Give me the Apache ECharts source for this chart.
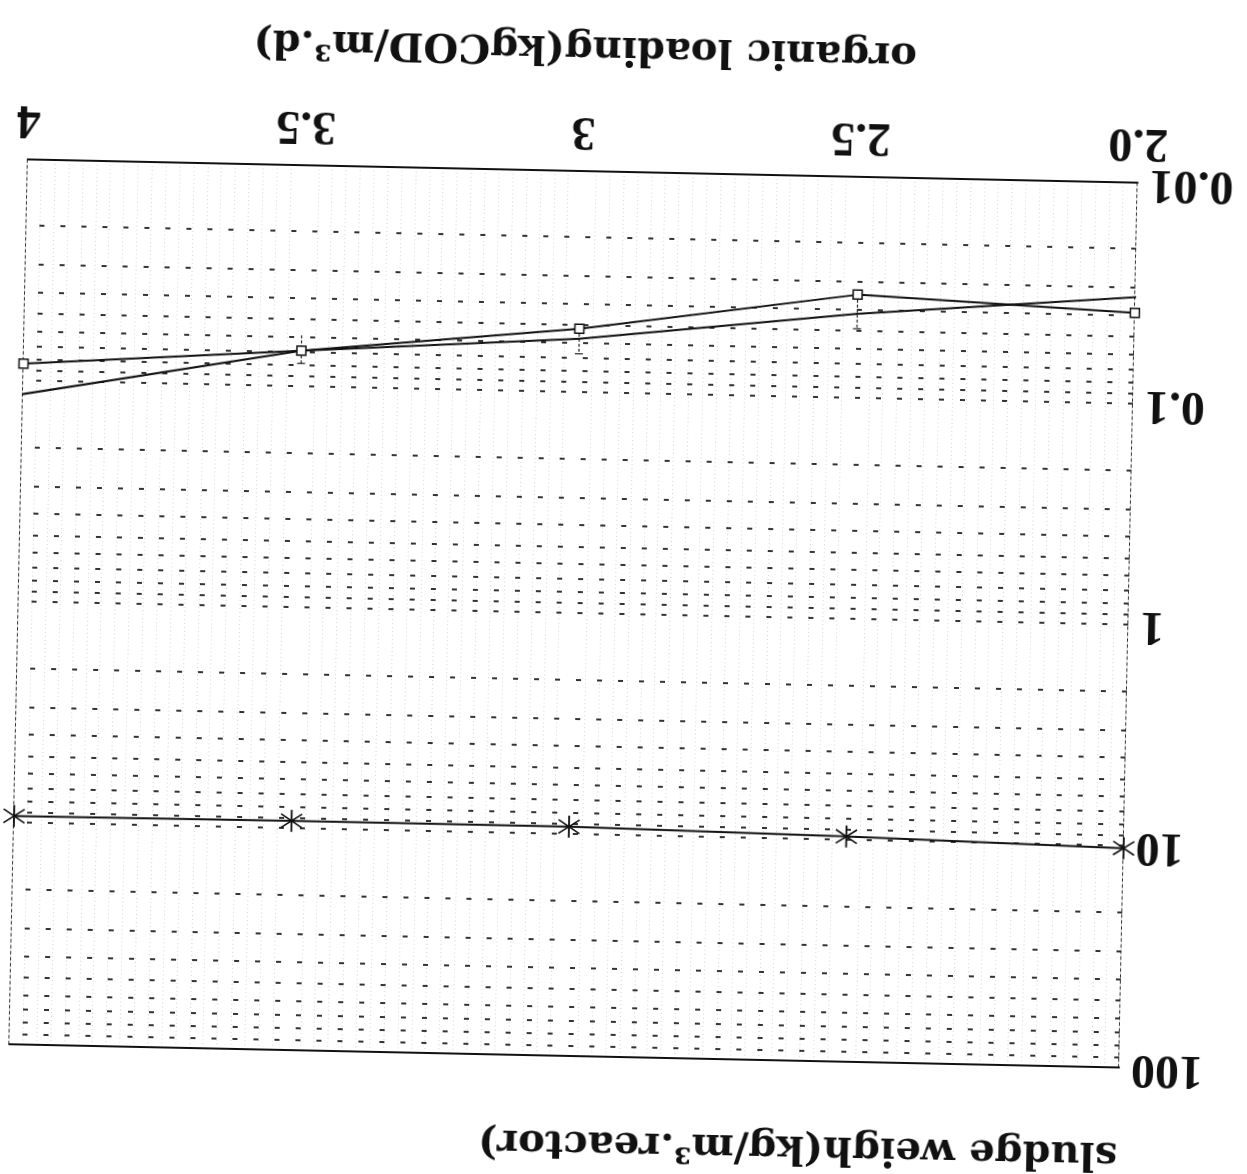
<!DOCTYPE html>
<html>
<head>
<meta charset="utf-8">
<title>sludge weigh vs organic loading</title>
<script src="https://cdn.jsdelivr.net/npm/echarts@6/dist/echarts.min.js"></script>
<style>
html, body { margin: 0; padding: 0; background: #fff; overflow: hidden; }
/* the scanned figure is upside down and a little skewed */
#chart { width: 1247px; height: 1174px; transform: rotate(181.2deg); transform-origin: 50% 50%; }
</style>
</head>
<body>
<div id="chart"></div>
<script>
// organic loading (x)
var loading = [2.0, 2.5, 3, 3.5, 4];
var xTickLabels = ['2.0', '2.5', '3', '3.5', '4'];
// sludge weigh, star series
var sludgeStar = [10.2, 9.6, 9.2, 9.2, 9.3];
// square series
var sludgeSquare = [0.0388, 0.0341, 0.0516, 0.069, 0.0838];
// plain line (runs a little past the frame)
var lineX = [1.973, 2.5, 3, 3.5, 4.03];
var lineY = [0.0325, 0.0416, 0.0573, 0.069, 0.1186];
// vertical bars on the square series: x, low, high
var barX = [2.5, 3, 3.5];
var barLow = [0.0341, 0.0516, 0.0588];
var barHigh = [0.0486, 0.067, 0.0787];
// y tick labels and dashed grid rows
var yTickLabels = ['0.01', '0.1', '1', '10', '100'];
var gridRows = [0.02, 0.03, 0.04, 0.05, 0.06, 0.07, 0.08, 0.09, 0.1,
	0.2, 0.3, 0.4, 0.5, 0.6, 0.7, 0.8, 0.9, 1,
	2, 3, 4, 5, 6, 7, 8, 9, 10,
	20, 30, 40, 50, 60, 70, 80, 90];

function pairs(xs, ys) {
	var out = [];
	for (var i = 0; i < xs.length; i++) {
		out.push([xs[i], ys[i]]);
	}
	return out;
}

var starPath = 'path://M9.3 0 h1.4 v20 h-1.4 z M1.6 4.4 L2.3 3.2 L18.4 15.6 L17.7 16.8 z M17.7 3.2 L18.4 4.4 L2.3 16.8 L1.6 15.6 z';
var serif = '"Liberation Serif", "Times New Roman", serif';
var wideSerif = '"DejaVu Serif", "Liberation Serif", serif';

var chart = echarts.init(document.getElementById('chart'));
var option = {
	animation : false,
	grid : {
		left : 118,
		right : 19,
		top : 117,
		bottom : 172
	},
	xAxis : [ {
		type : 'value',
		min : 2,
		max : 4,
		interval : 0.5,
		position : 'bottom',
		name : 'organic loading(kgCOD/m³.d)',
		nameLocation : 'middle',
		nameGap : 104,
		nameTextStyle : {
			fontFamily : wideSerif,
			fontWeight : 'bold',
			fontSize : 40,
			color : '#111'
		},
		axisLine : {
			show : true,
			lineStyle : { color : '#111', width : 2 }
		},
		axisTick : { show : false },
		axisLabel : {
			margin : 17,
			fontFamily : serif,
			fontWeight : 'bold',
			fontSize : 48,
			color : '#111',
			formatter : function(v) {
				var i = loading.indexOf(v);
				return i >= 0 ? xTickLabels[i] : '';
			}
		},
		splitLine : { show : false },
		minorTick : { show : false, splitNumber : 20 },
		minorSplitLine : {
			show : true,
			lineStyle : { color : '#d4d4d4', width : 1, type : [1, 3] }
		}
	}, {
		type : 'value',
		min : 2,
		max : 4,
		position : 'top',
		axisLine : {
			show : true,
			lineStyle : { color : '#111', width : 2 }
		},
		axisTick : { show : false },
		axisLabel : { show : false },
		splitLine : { show : false }
	} ],
	yAxis : [ {
		type : 'log',
		logBase : 10,
		min : 0.01,
		max : 100,
		position : 'left',
		name : 'sludge weigh(kg/m³.reactor)',
		nameLocation : 'end',
		nameGap : 66,
		nameTextStyle : {
			fontFamily : wideSerif,
			fontWeight : 'bold',
			fontSize : 40,
			color : '#111',
			align : 'left'
		},
		axisLine : {
			show : true,
			lineStyle : { color : '#333', width : 1, type : [3, 3] }
		},
		axisTick : { show : false },
		axisLabel : {
			margin : 12,
			fontFamily : serif,
			fontWeight : 'bold',
			fontSize : 48,
			color : '#111',
			formatter : function(v) {
				var i = Math.round(Math.log(v) / Math.LN10) + 2;
				return yTickLabels[i] || '';
			}
		},
		splitLine : { show : false }
	}, {
		type : 'log',
		logBase : 10,
		min : 0.01,
		max : 100,
		position : 'right',
		axisLine : {
			show : true,
			lineStyle : { color : '#333', width : 1, type : [3, 3] }
		},
		axisTick : { show : false },
		axisLabel : { show : false },
		splitLine : { show : false }
	} ],
	series : [ {
		name : 'sludge star',
		type : 'line',
		data : pairs(loading, sludgeStar),
		symbol : starPath,
		symbolSize : 22,
		showAllSymbol : true,
		lineStyle : { color : '#111', width : 2 },
		itemStyle : { color : '#111' },
		markLine : {
			silent : true,
			symbol : [ 'none', 'none' ],
			label : { show : false },
			lineStyle : { color : '#333', width : 2, type : [5, 16] },
			emphasis : { disabled : true },
			data : gridRows.map(function(v) {
				return { yAxis : v };
			})
		},
		z : 5
	}, {
		name : 'sludge square',
		type : 'line',
		data : pairs(loading, sludgeSquare),
		symbol : 'rect',
		symbolSize : 9,
		showAllSymbol : true,
		lineStyle : { color : '#111', width : 2 },
		itemStyle : { color : '#fff', borderColor : '#111', borderWidth : 1.5 },
		z : 6
	}, {
		name : 'fit',
		type : 'line',
		data : pairs(lineX, lineY),
		symbol : 'none',
		clip : false,
		lineStyle : { color : '#111', width : 2 },
		z : 5
	}, {
		name : 'bars',
		type : 'custom',
		data : barX.map(function(x, i) {
			return [ x, barLow[i], barHigh[i] ];
		}),
		renderItem : function(params, api) {
			var lo = api.coord([ api.value(0), api.value(1) ]);
			var hi = api.coord([ api.value(0), api.value(2) ]);
			var st = { stroke : '#222', lineWidth : 1.2 };
			return {
				type : 'group',
				children : [ {
					type : 'line',
					shape : { x1 : lo[0], y1 : lo[1], x2 : hi[0], y2 : hi[1] },
					style : { stroke : '#222', lineWidth : 1.2, lineDash : [ 3, 2 ] }
				}, {
					type : 'line',
					shape : { x1 : hi[0] - 4, y1 : hi[1], x2 : hi[0] + 4, y2 : hi[1] },
					style : st
				} ]
			};
		},
		z : 4
	} ]
};
chart.setOption(option);
</script>
</body>
</html>
